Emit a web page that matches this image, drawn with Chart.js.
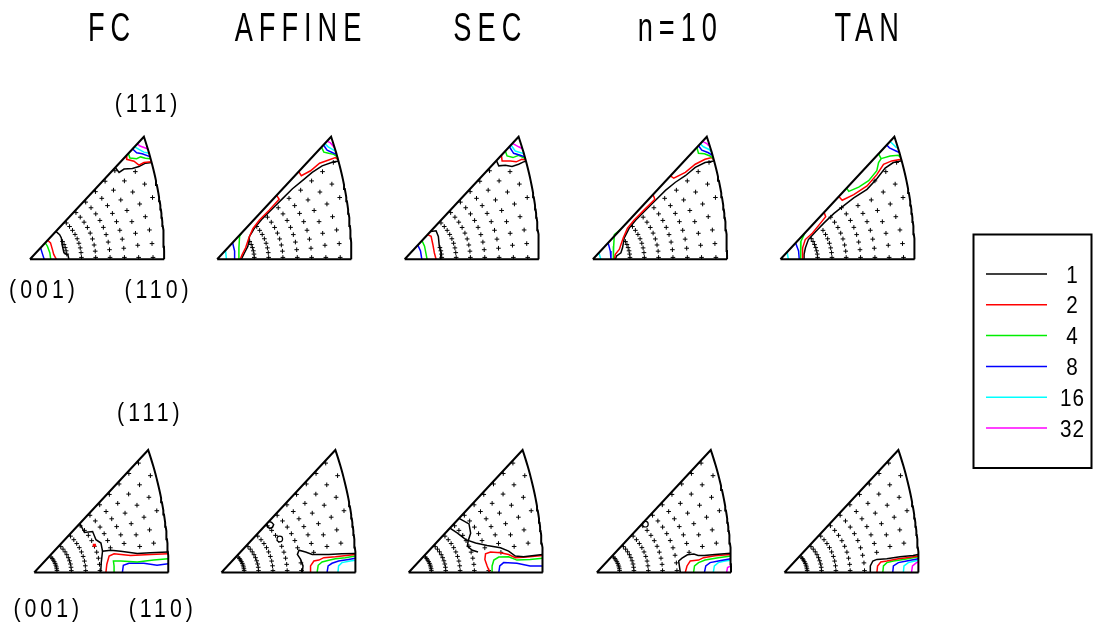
<!DOCTYPE html>
<html>
<head>
<meta charset="utf-8">
<script src="https://cdn.jsdelivr.net/npm/chart.js@4.4.0/dist/chart.umd.min.js"></script>
<style>
  html, body { margin: 0; padding: 0; background: #fff; }
  #wrap { width: 1094px; height: 636px; }
</style>
</head>
<body>
<div id="wrap"><canvas id="ipf" width="1094" height="636"></canvas></div>
<script>
// ---- data ----
const methods = ['FC', 'AFFINE', 'SEC', 'n=10', 'TAN'];
const poles = ['(001)', '(110)', '(111)'];
const levels = [1, 2, 4, 8, 16, 32];
const levelColors = ['#000000', '#ff0000', '#00ee00', '#0000ff', '#00ffff', '#ff00ff'];

// contour lines: [level, corners closing the level-1 region, u,v pairs]
// u,v in % of the (001)-(110) edge, origin at (001)
const fcTop = [
  [32, '', [80,86.6, 82,85, 86,83.5, 88.3,82.5]],
  [16, '', [78,84.4, 81.2,82.4, 84.9,80.4, 88.8,79.5]],
  [8, '', [76.5,82.8, 79.5,79.9, 83.6,79.2, 89.4,77]],
  [4, '', [73.3,79.3, 74.5,76, 79.5,75.5, 82.4,76.8, 86,75.8, 89.9,75.5]],
  [2, '', [71.6,77.5, 72.1,75, 77.5,73.6, 81.2,70.6, 84.9,72.6, 90.4,73.1]],
  [1, 'A', [63.6,68.9, 66.4,65.2, 70.1,67.7, 76.3,68.1, 81.2,69.6, 86.1,72.1, 90.6,72.6]],
  [1, 'O', [19.3,20.9, 22.1,18.5, 23.4,16, 23.9,11.1, 25.3,4.9, 28.3,3.2, 29,0]],
  [2, '', [13.2,14.3, 15.3,12.3, 16.7,7.4, 17.7,3.7, 19.7,0]],
  [4, '', [11.4,12.3, 13,9.8, 14.8,4.9, 15.5,0]],
  [8, '', [7.9,8.6, 9,5, 10.6,0]]
];
const affineTop = [
  [32, '', [81.9,88.6, 84.4,87.3, 86.4,85, 87.5,83.4]],
  [16, '', [80.2,86.8, 82.7,84.4, 86.8,81.9, 88.3,81.2]],
  [8, '', [79.2,85.7, 81.9,81.9, 86.1,79.9, 89,78.7]],
  [4, '', [77.7,84.1, 79.5,80.4, 83.1,79.5, 86.8,78.7, 88.8,77.5, 90,75.5]],
  [2, '', [60.8,65.8, 62.7,62.7, 69.6,66.4, 76.3,72.1, 83.1,74.5, 88.1,76.3, 90.3,74.5]],
  [2, '', [44.3,47.9, 46.2,45, 38.9,36.9, 31.5,29.5, 26.6,22.9, 23.6,16, 21.2,8.6, 18.7,3.7, 17.2,0]],
  [1, 'OA', [90.5,73.5, 86.8,73.2, 78.2,70.1, 70.8,65.2, 63.5,59, 56.1,52.9, 48.7,45.5, 41.3,38.1, 33.9,30.7, 27.8,23.4, 24.1,17.2, 22.9,9.8, 20.4,4.9, 19.2,2.5, 18,0]],
  [4, '', [18,19.5, 16.7,17.2, 16.2,8.6, 16.2,0]],
  [8, '', [11.5,12.4, 13,6.2, 13,0]],
  [16, '', [6.2,6.7, 6.9,0]]
];
const secTop = [
  [32, '', [80.4,87, 84.9,84.4, 87.8,82.9]],
  [16, '', [79.2,85.7, 82.4,81.2, 88.1,79.5, 88.9,78.7]],
  [8, '', [78,84.4, 81.2,79.5, 86.1,78, 89.6,76.8]],
  [4, '', [75,81.2, 76.3,77.5, 80.7,76.3, 84.9,78, 89.9,75.5]],
  [2, '', [72.1,78, 72.6,73.8, 78.7,73.8, 83.1,73.1, 87.3,75, 90.2,74.5]],
  [1, 'A', [68.4,74, 70.1,70.1, 75,70.6, 80,69.6, 84.9,71.3, 88.6,73.1, 90.5,73.5]],
  [1, 'O', [19.3,20.9, 23.4,21.4, 25.1,17.2, 25.8,9.8, 27.1,4.9, 26.6,0]],
  [2, '', [17.1,18.5, 19.7,17.2, 21,11.1, 22.1,4.9, 23.4,0]],
  [4, '', [12.9,14, 14.8,9.8, 16,3.7, 16.7,0]],
  [8, '', [9.8,10.6, 11.8,6.2, 12.8,0]]
];
const n10Top = [
  [32, '', [81.7,88.4, 84.9,86.8, 86.5,85]],
  [16, '', [80,86.6, 82.4,84.4, 86.6,82.4, 88.5,80.4]],
  [8, '', [78.7,85.2, 81.2,81.9, 86.1,79.9, 89.1,77.9]],
  [4, '', [77.5,83.9, 78.7,79.5, 83.1,79.2, 87.3,77.5, 89.8,75.5]],
  [2, '', [57.8,62.6, 60.3,60.8, 68.9,65.2, 76.3,71.3, 83.6,75, 88.6,76.3, 90,74.5]],
  [2, '', [44.8,48.5, 46.2,45, 38.1,36.9, 30.8,29.5, 25.8,23.4, 22.6,16, 19.7,7.4, 16.7,3.7, 16,0]],
  [1, 'OA', [90.2,73.8, 83.6,72.6, 76.3,68.9, 68.9,62.7, 61.5,57.8, 54.1,51.7, 46.7,44.3, 39.4,36.9, 32,29.5, 27.1,23.4, 23.4,16, 22.1,8.6, 20.9,4.9, 17.7,2.5, 16.7,0]],
  [4, '', [20.9,22.6, 16,18.5, 15.5,9.8, 15.3,0]],
  [8, '', [11.4,12.3, 13,6.2, 13.5,0]],
  [16, '', [4.5,4.9, 5.9,0]]
];
const tanTop = [
  [16, '', [81.7,88.4, 84.1,86.1, 86.6,83.6]],
  [8, '', [79.2,85.7, 81.2,83.6, 86.1,81.2, 88.6,80]],
  [4, '', [49.3,53.4, 50.9,50.9, 58.3,54.1, 65.7,59, 71.8,66.4, 73.1,72.6, 75,75.5, 73.1,79.1]],
  [4, '', [75,75.5, 81.7,77.5, 87.8,78, 89.6,76.3]],
  [2, '', [43.5,47.1, 46,44.3, 54.6,48.5, 64.5,55, 71.8,63.5, 76.8,71.3, 82.9,73.8, 89.8,75]],
  [2, '', [32.5,35.2, 33.7,32, 28.8,25.8, 23.9,19.7, 18.5,14.8, 16.5,8.6, 16.5,0]],
  [1, 'OA', [90.3,74, 84.1,72.6, 78,68.4, 71.8,60.5, 64.5,52.5, 54.6,46, 47.2,40.3, 39.9,34.4, 32.5,27.3, 26.3,20.9, 20.8,14.8, 18.6,8.6, 17.6,3.7, 17.6,0]],
  [4, '', [18.2,19.7, 17,17.2, 15.3,13.5, 14.8,6.2, 15.3,0]],
  [8, '', [11.3,12.3, 13.5,6.2, 14,0]],
  [16, '', [5,5.4, 5.9,0]]
];
const fcBottom = [
  [1, '', [34,36.8, 37.4,30, 43.5,30.7, 46,24.6, 49.7,22.1, 50.9,16]],
  [1, 'B', [49.5,0, 50,8, 50.9,16, 57.1,16.7, 64.5,16, 76.8,14.3, 86.6,14.8, 99.6,15.3]],
  [2, '', [53.4,0, 54.1,6.2, 55.8,12.3, 59.5,14, 71.8,12.8, 86.6,13.5, 99.6,14]],
  [4, '', [59.5,0, 59.5,4.9, 59,8.6, 64.5,8.6, 76.8,7.9, 89,9.3, 99.7,10.3]],
  [8, '', [65.7,0, 66.4,5.4, 70.6,6.9, 81.7,6.9, 91.5,5.4, 99.8,6.6]]
];
const affineBottom = [
  [1, '', [35.4,38.3, 37.4,37.6, 38.9,35.9, 38.1,34, 35.9,33, 33.2,35.9]],
  [1, 'B', [60.3,0, 60.8,4.9, 59,9.8, 56.6,13.5, 57.8,16.7, 62.7,15.3, 67.7,13.5, 80,13.5, 89.8,14, 99.6,14.3]],
  [2, '', [66.4,0, 66.4,4.9, 68.9,8.6, 72.6,9.3, 76.3,11.1, 84.9,11.8, 99.7,13.5]],
  [4, '', [71.3,0, 72.1,5.4, 75,7.9, 80,9.1, 84.9,10.3, 92.3,11.1, 99.8,12.3]],
  [8, '', [78.7,0, 79.5,4.9, 82.4,6.9, 87.3,8.6, 94.7,9.8, 99.8,10.6]],
  [16, '', [86.8,0, 87.3,4.9, 89.8,7.4, 95.9,8.6, 99.8,9.1]]
];
const secBottom = [
  [1, '', [37.6,40.6, 45,36.4, 46.2,29.5, 44.3,23.4, 43.8,19.7, 47.5,16.7, 51.7,15.3]],
  [1, '', [30.8,33.2, 36.4,29.5, 42.6,24.6, 49.9,22.1, 58.5,20.2, 68.4,18.5, 74.5,16, 79.5,12.3, 85.6,11.8, 99.7,13.5]],
  [2, 'B', [60.5,0, 58.5,4.9, 56.8,9.8, 57.3,14, 61,15.3, 68.4,14.8, 74.5,13.5, 79.5,11.1, 88.1,11.6, 99.8,12.8]],
  [4, '', [62.2,0, 62.2,4.9, 63.5,9.3, 67.2,11.6, 74.5,11.8, 80.7,9.3, 90.5,9.8, 99.8,10.6]],
  [8, '', [67.2,0, 67.9,4.9, 70.8,7.4, 80.7,6.9, 90.5,4.9, 99.9,4.9]]
];
const n10Bottom = [
  [1, 'B', [62.2,0, 61.5,5, 61,8.6, 63.5,10.8, 67.5,13.3, 72.3,13.8, 75.5,12.8, 80,12.8, 88,13.5, 99.7,14.5]],
  [2, '', [65.9,0, 67.2,4.9, 69.6,8.6, 75.8,9.3, 79.5,11.1, 88.1,12.6, 99.7,13.5]],
  [4, '', [72.1,0, 72.8,4.9, 75.8,7.4, 80.7,9.3, 90.5,11.1, 99.8,12.3]],
  [8, '', [80.2,0, 81.2,4.9, 84.4,7.4, 90.5,8.6, 99.8,10.3]],
  [16, '', [86.8,0, 87.6,4.9, 90.5,7.4, 95.4,8.6, 99.8,9.1]],
  [32, '', [96.7,0, 97.4,3.7, 99.9,4.9]]
];
const tanBottom = [
  [1, 'B', [64,0, 64,4.9, 65.9,8.6, 68.9,9.8, 76.3,10.3, 86.1,11.8, 95.9,12.8, 99.7,13.5]],
  [2, '', [68.9,0, 69.4,4.9, 71.8,7.9, 76.3,8.6, 84.9,10.3, 91,11.1, 99.7,12.3]],
  [4, '', [73.3,0, 73.8,4.9, 76.3,7.4, 81.2,8.6, 88.6,9.8, 95.9,11.1, 99.8,11.8]],
  [8, '', [80.7,0, 81.2,4.9, 84.9,7.4, 91,8.6, 99.8,10.3]],
  [16, '', [88.6,0, 89.1,4.9, 92.3,7.4, 97.2,8.6, 99.8,9.1]],
  [32, '', [94.7,0, 95.4,4.9, 98.4,7.4, 99.8,8.1]]
];
// tiny closed contours: [panel index, level, u, v, hollow?]
const islands = [
  [5, 2, 44.8, 20.4, false],
  [6, 1, 43.5, 25.1, true],
  [8, 1, 36.2, 36.2, true]
];
// sampling grid: ring radius (fraction of edge) and points per ring
const gridRadii = [0.17, 0.277, 0.384, 0.49, 0.597, 0.704, 0.81, 0.917, 1.024, 1.13, 1.237];
const gridCounts = [9, 9, 9, 9, 9, 9, 8, 8, 8, 8, 8];

const panelContours = [fcTop, affineTop, secTop, n10Top, tanTop, fcBottom, affineBottom, secBottom, n10Bottom, tanBottom];

// ---- layout (pixels) ----
const W = 1094, H = 636;
const EDGE = 135.5;             // (001)-(110) edge length in px
const APEX = [0.849, 0.919];    // (111) corner, in edge units
const origins = [
  [25, 258.3], [214, 258.3], [403.3, 258.3], [593.3, 258.3], [782.7, 258.3],
  [29.3, 576.7], [218.3, 576.7], [407.3, 576.7], [597.3, 576.7], [786.7, 576.7]
];
const FONT = '"Liberation Sans", Arial, sans-serif';

// circular (110)-(111) edge: circle centred on the (001)-(110) line
const arcC = (APEX[0] ** 2 + APEX[1] ** 2 - 1) / (2 * APEX[0] - 2);
const arcR = 1 - arcC;
const corners = { O: [0, 0], B: [1, 0], A: APEX };

function toChart(p, u, v) {
  const [ox, oy] = origins[p];
  return { x: ox / EDGE + u, y: (H - oy) / EDGE + v };
}

function pairs(flat) {
  const out = [];
  for (let i = 0; i < flat.length; i += 2) out.push([flat[i] / 100, flat[i + 1] / 100]);
  return out;
}

function inside(poly, u, v) {
  let hit = false;
  for (let i = 0, j = poly.length - 1; i < poly.length; j = i++) {
    const [ui, vi] = poly[i], [uj, vj] = poly[j];
    if ((vi > v) !== (vj > v) && u < (uj - ui) * (v - vi) / (vj - vi) + ui) hit = !hit;
  }
  return hit;
}

function outline(p) {
  const pts = [[0, 0], [1, 0]];
  const end = Math.atan2(APEX[1], APEX[0] - arcC);
  for (let i = 1; i <= 30; i++) {
    const a = end * i / 30;
    pts.push([arcC + arcR * Math.cos(a), arcR * Math.sin(a)]);
  }
  pts.push([0, 0]);
  return pts.map(([u, v]) => toChart(p, u, v));
}

function gridFor(p, masks) {
  const hyp = Math.atan2(APEX[1], APEX[0]);
  const pts = [];
  gridRadii.forEach((r, i) => {
    const m = 0.014 / r;
    const n = gridCounts[i];
    for (let k = 0; k < n; k++) {
      const a = m + (hyp - 2 * m) * k / (n - 1);
      const u = r * Math.cos(a), v = r * Math.sin(a);
      if ((u - arcC) ** 2 + v ** 2 > (arcR - 0.018) ** 2) continue;
      if (masks.some(poly => inside(poly, u, v))) continue;
      pts.push(toChart(p, u, v));
    }
  });
  return pts;
}

const outlineSets = [], contourSets = [], gridSets = [];
panelContours.forEach((lines, p) => {
  outlineSets.push({
    data: outline(p), showLine: true, borderColor: '#000', borderWidth: 2,
    pointRadius: 0, fill: false
  });
  const masks = [];
  lines.forEach(([level, close, flat]) => {
    const pts = pairs(flat);
    if (close) masks.push(pts.concat([...close].map(c => corners[c])));
    contourSets.push({
      data: pts.map(([u, v]) => toChart(p, u, v)), showLine: true,
      borderColor: levelColors[levels.indexOf(level)], borderWidth: 1.5,
      pointRadius: 0, fill: false
    });
  });
  gridSets.push({
    data: gridFor(p, masks), showLine: false, pointStyle: 'cross',
    pointRadius: 2.3, borderColor: '#000', pointBorderWidth: 1
  });
});
const islandSets = islands.map(([p, level, u, v, hollow]) => ({
  data: [toChart(p, u / 100, v / 100)], showLine: false,
  pointStyle: hollow ? 'circle' : 'rect',
  pointRadius: hollow ? 2.8 : 1.4,
  borderColor: levelColors[levels.indexOf(level)],
  backgroundColor: hollow ? '#fff' : levelColors[levels.indexOf(level)],
  pointBorderWidth: 1.2
}));

function drawText(ctx, str, cx, y, size, sx, gap) {
  ctx.save();
  ctx.font = size + 'px ' + FONT;
  if ('letterSpacing' in ctx) ctx.letterSpacing = (gap / sx) + 'px';
  ctx.fillStyle = '#000';
  ctx.textAlign = 'center';
  ctx.textBaseline = 'alphabetic';
  ctx.translate(cx + gap / 2, y);
  ctx.scale(sx, 1);
  ctx.fillText(str, 0, 0);
  ctx.restore();
}

const textPlugin = {
  id: 'ipfText',
  afterDraw(chart) {
    const ctx = chart.ctx;
    // method titles over the top row
    methods.forEach((m, i) => drawText(ctx, m, origins[i][0] + 0.62 * EDGE, 41, 40, 0.68, 6));
    // pole labels on the first triangle of each row
    [[0, -31, 6], [5, -40, 4]].forEach(([p, dyTop, dxTop]) => {
      const [ox, oy] = origins[p];
      drawText(ctx, poles[0], ox + 17, oy + 40, 26, 0.82, 4);
      drawText(ctx, poles[1], ox + EDGE - 4, oy + 40, 26, 0.82, 4);
      drawText(ctx, poles[2], ox + APEX[0] * EDGE + dxTop, oy - APEX[1] * EDGE + dyTop + 9, 26, 0.82, 4);
    });
    // level key
    ctx.save();
    ctx.strokeStyle = '#000';
    ctx.lineWidth = 2;
    ctx.strokeRect(973.5, 234.5, 118, 233.5);
    levels.forEach((lv, i) => {
      const y = 274 + i * 30.8;
      ctx.beginPath();
      ctx.strokeStyle = levelColors[i];
      ctx.lineWidth = 1.5;
      ctx.moveTo(986, y);
      ctx.lineTo(1047, y);
      ctx.stroke();
      drawText(ctx, String(lv), 1072, y + 8.5, 23, 0.9, 1);
    });
    ctx.restore();
  }
};

new Chart(document.getElementById('ipf'), {
  type: 'scatter',
  data: { datasets: [...outlineSets, ...islandSets, ...contourSets, ...gridSets] },
  options: {
    responsive: false,
    animation: false,
    devicePixelRatio: 1,
    events: [],
    layout: { padding: 0 },
    plugins: { legend: { display: false }, tooltip: { enabled: false } },
    scales: {
      x: { type: 'linear', min: 0, max: W / EDGE, display: false },
      y: { type: 'linear', min: 0, max: H / EDGE, display: false }
    }
  },
  plugins: [textPlugin]
});
</script>
</body>
</html>
